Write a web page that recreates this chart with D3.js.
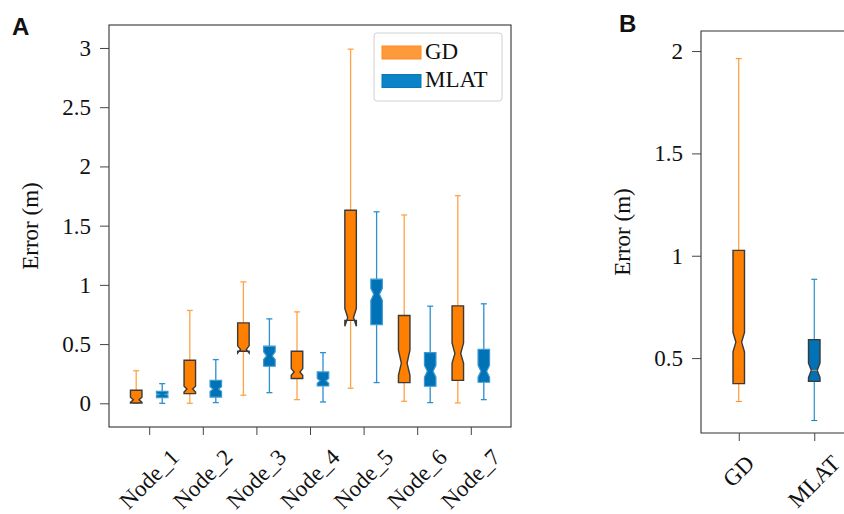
<!DOCTYPE html>
<html>
<head>
<meta charset="utf-8">
<script src="https://cdn.jsdelivr.net/npm/d3@7"></script>
<style>
  html, body { margin: 0; padding: 0; background: #fff; }
  svg { display: block; }
  text { font-family: "Liberation Serif", "DejaVu Serif", serif; fill: #111; }
</style>
</head>
<body>
<svg id="chart" width="844" height="514"></svg>
<script>
// ---------------- DATA ----------------
const nodes = ["Node_1", "Node_2", "Node_3", "Node_4", "Node_5", "Node_6", "Node_7"];
const seriesNames = ["GD", "MLAT"];

// Panel A – GD per node
const gdLo    = [0.000, 0.000, 0.068, 0.031, 0.127, 0.017, 0.003];
const gdQ1    = [0.003, 0.082, 0.440, 0.209, 0.700, 0.175, 0.194];
const gdMed   = [0.030, 0.120, 0.455, 0.265, 0.725, 0.340, 0.420];
const gdQ3    = [0.110, 0.364, 0.679, 0.440, 1.630, 0.741, 0.823];
const gdHi    = [0.275, 0.784, 1.025, 0.772, 2.990, 1.590, 1.753];
const gdNLo   = [0.008, 0.095, 0.425, 0.237, 0.650, 0.237, 0.340];
const gdNHi   = [0.052, 0.145, 0.485, 0.293, 0.800, 0.448, 0.510];

// Panel A – MLAT per node
const mlLo    = [0.000, 0.006, 0.090, 0.011, 0.175, 0.006, 0.031];
const mlQ1    = [0.048, 0.053, 0.313, 0.146, 0.665, 0.144, 0.178];
const mlMed   = [0.075, 0.120, 0.400, 0.190, 0.920, 0.270, 0.270];
const mlQ3    = [0.100, 0.194, 0.482, 0.265, 1.048, 0.428, 0.456];
const mlHi    = [0.166, 0.369, 0.713, 0.428, 1.617, 0.820, 0.840];
const mlNLo   = [0.068, 0.100, 0.370, 0.170, 0.870, 0.220, 0.220];
const mlNHi   = [0.082, 0.140, 0.434, 0.210, 0.970, 0.320, 0.320];

// Panel B – overall
const bLo  = [0.288, 0.195];
const bQ1  = [0.375, 0.386];
const bMed = [0.578, 0.440];
const bQ3  = [1.026, 0.590];
const bHi  = [1.963, 0.885];
const bNLo = [0.530, 0.405];
const bNHi = [0.625, 0.475];

const yTicksA = [0, 0.5, 1, 1.5, 2, 2.5, 3];
const yTicksB = [0.5, 1, 1.5, 2];
const yLabel = "Error (m)";

// ---------------- STYLE ----------------
const C = {
  gdFill: "#ff7f00", gdEdge: "#3a3a3a", gdWhisk: "#ffa444",
  mlFill: "#0072b5", mlEdgeA: "#3b9ad2", mlWhisk: "#2c8fcf",
  spine: "#333", tick: "#444"
};
const SERIF = "'Liberation Serif', 'DejaVu Serif', serif";
const FS = 23;

const svg = d3.select("#chart");

function boxPath(cx, w, q1, med, q3, nLo, nHi, y) {
  const l = cx - w / 2, r = cx + w / 2, cl = cx - w / 4, cr = cx + w / 4;
  const p = d3.path();
  p.moveTo(l, y(q1)); p.lineTo(r, y(q1)); p.lineTo(r, y(nLo)); p.lineTo(cr, y(med));
  p.lineTo(r, y(nHi)); p.lineTo(r, y(q3)); p.lineTo(l, y(q3)); p.lineTo(l, y(nHi));
  p.lineTo(cl, y(med)); p.lineTo(l, y(nLo)); p.closePath();
  return p.toString();
}

function drawBox(g, d, y, w, fill, edge, edgeW, whisk, whiskW) {
  const cap = 6;
  g.append("line").attr("x1", d.x).attr("x2", d.x).attr("y1", y(d.q3)).attr("y2", y(d.hi))
    .attr("stroke", whisk).attr("stroke-width", whiskW);
  g.append("line").attr("x1", d.x).attr("x2", d.x).attr("y1", y(d.q1)).attr("y2", y(d.lo))
    .attr("stroke", whisk).attr("stroke-width", whiskW);
  [d.hi, d.lo].forEach(v => g.append("line")
    .attr("x1", d.x - cap / 2).attr("x2", d.x + cap / 2).attr("y1", y(v)).attr("y2", y(v))
    .attr("stroke", whisk).attr("stroke-width", whiskW));
  g.append("path").attr("d", boxPath(d.x, w, d.q1, d.med, d.q3, d.nLo, d.nHi, y))
    .attr("fill", fill).attr("stroke", edge).attr("stroke-width", edgeW)
    .attr("stroke-linejoin", "miter");
}

function yAxis(g, y, ticks, x0) {
  const ax = g.append("g").attr("transform", `translate(${x0},0)`)
    .call(d3.axisLeft(y).tickValues(ticks).tickSize(9).tickPadding(9).tickFormat(d => String(d)));
  ax.select(".domain").remove();
  ax.selectAll("line").attr("stroke", C.tick).attr("stroke-width", 1);
  ax.selectAll("text").attr("font-size", FS).style("font-family", SERIF).style("fill", "#111");
}

function xAxis(g, x, cats, y0) {
  const ax = g.append("g").attr("transform", `translate(0,${y0})`)
    .call(d3.axisBottom(x).tickValues(cats).tickSize(8).tickFormat(""));
  ax.select(".domain").remove();
  ax.selectAll("line").attr("stroke", C.tick).attr("stroke-width", 1);
  cats.forEach(c => {
    const t = g.append("text").text(c).attr("font-size", FS).attr("text-anchor", "middle")
      .style("font-family", SERIF).attr("dy", "0.33em");
    const w = t.node().getComputedTextLength();
    const h = FS * 0.78;
    const cy = y0 + 20 + (w + h) / (2 * Math.SQRT2);
    t.attr("transform", `translate(${x(c)},${cy}) rotate(-45)`);
  });
}

// ---------------- PANEL A ----------------
const A = { l: 109, r: 511, t: 25, b: 427 };
const xA = d3.scalePoint().domain(nodes).range([A.l, A.r]).padding(0.75);
const yA = d3.scaleLinear().domain([-0.2, 3.194]).range([A.b, A.t]);
const gA = svg.append("g");
const off = 13, bw = 11.5;

nodes.forEach((n, i) => {
  drawBox(gA, { x: xA(n) - off, lo: gdLo[i], q1: gdQ1[i], med: gdMed[i], q3: gdQ3[i], hi: gdHi[i], nLo: gdNLo[i], nHi: gdNHi[i] },
    yA, bw, C.gdFill, C.gdEdge, 1.4, C.gdWhisk, 1.3);
  drawBox(gA, { x: xA(n) + off, lo: mlLo[i], q1: mlQ1[i], med: mlMed[i], q3: mlQ3[i], hi: mlHi[i], nLo: mlNLo[i], nHi: mlNHi[i] },
    yA, bw, C.mlFill, C.mlEdgeA, 1.2, C.mlWhisk, 1.3);
});

gA.append("rect").attr("x", A.l).attr("y", A.t).attr("width", A.r - A.l).attr("height", A.b - A.t)
  .attr("fill", "none").attr("stroke", C.spine).attr("stroke-width", 1.1);
yAxis(gA, yA, yTicksA, A.l);
xAxis(gA, xA, nodes, A.b);

gA.append("text").text(yLabel).attr("font-size", FS).attr("text-anchor", "middle").style("font-family", SERIF)
  .attr("dy", "0.33em").attr("transform", `translate(30,${(A.t + A.b) / 2}) rotate(-90)`);

// legend
const lg = gA.append("g");
lg.append("rect").attr("x", 374).attr("y", 33).attr("width", 128).attr("height", 68).attr("rx", 3)
  .attr("fill", "#fff").attr("stroke", "#d0d0d0").attr("stroke-width", 1);
const legFill = ["#ff9a3c", "#0a84c6"], legEdge = ["#ff8a1a", "#0a76b6"];
seriesNames.forEach((s, i) => {
  const yy = 46 + i * 28.5;
  lg.append("rect").attr("x", 382).attr("y", yy).attr("width", 39).attr("height", 13)
    .attr("fill", legFill[i]).attr("stroke", legEdge[i]).attr("stroke-width", 1);
  lg.append("text").text(s).attr("x", 425).attr("y", yy + 12.5).attr("font-size", FS).style("font-family", SERIF);
});

svg.append("text").text("A").attr("x", 12).attr("y", 35).attr("font-size", 24)
  .attr("font-weight", "bold").style("font-family", "'Liberation Sans', Arial, sans-serif");

// ---------------- PANEL B ----------------
const B = { l: 701, r: 852, t: 31, b: 433 };
const xB = d3.scalePoint().domain(seriesNames).range([B.l, B.r]).padding(0.5);
const yB = d3.scaleLinear().domain([0.134, 2.098]).range([B.b, B.t]);
const gB = svg.append("g");
const fillsB = [C.gdFill, C.mlFill], whiskB = ["#ff9326", "#1784c8"];
seriesNames.forEach((s, i) => {
  drawBox(gB, { x: xB(s), lo: bLo[i], q1: bQ1[i], med: bMed[i], q3: bQ3[i], hi: bHi[i], nLo: bNLo[i], nHi: bNHi[i] },
    yB, 11.5, fillsB[i], "#3a3a3a", 1.4, whiskB[i], 1.1);
});
gB.append("line").attr("x1", xB("MLAT") - 2.9).attr("x2", xB("MLAT") + 2.9)
  .attr("y1", yB(bMed[1])).attr("y2", yB(bMed[1])).attr("stroke", "#c8884a").attr("stroke-width", 1);
gB.append("path").attr("d", `M${B.r},${B.t}H${B.l}V${B.b}H${B.r}`)
  .attr("fill", "none").attr("stroke", C.spine).attr("stroke-width", 1.1);
yAxis(gB, yB, yTicksB, B.l);
xAxis(gB, xB, seriesNames, B.b);
gB.append("text").text(yLabel).attr("font-size", FS).attr("text-anchor", "middle").style("font-family", SERIF)
  .attr("dy", "0.33em").attr("transform", `translate(622,${(B.t + B.b) / 2}) rotate(-90)`);

svg.append("text").text("B").attr("x", 619).attr("y", 32).attr("font-size", 24)
  .attr("font-weight", "bold").style("font-family", "'Liberation Sans', Arial, sans-serif");
</script>
</body>
</html>
